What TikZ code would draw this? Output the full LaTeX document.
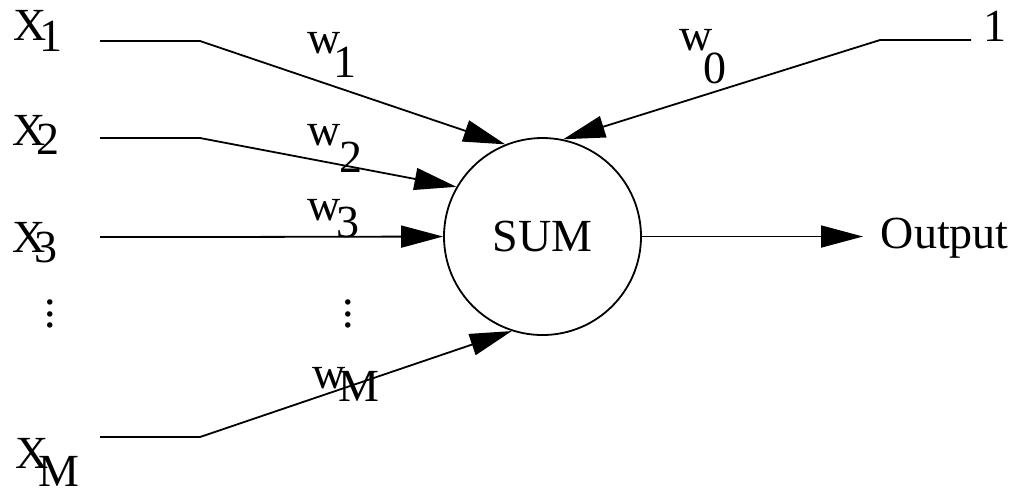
\documentclass[tikz,border=0pt]{standalone}
\usepackage{fontspec}
\setmainfont{Liberation Serif}
\newfontfamily\tms{Liberation Serif}
\usepackage{tikz}
\usetikzlibrary{
  arrows.meta,
  positioning,
  calc
}

% label with a lowered index: base, index, kern, drop
\newcommand{\sublab}[4]{#1\kern#3\raisebox{-#4}{#2}}
\newcommand{\vdotz}{\vbox{\baselineskip=2.8pt\lineskiplimit=-20pt\hbox{.}\hbox{.}\hbox{.}}}

\begin{document}
\begin{tikzpicture}[x=0.25pt,y=-0.25pt,
  every node/.style={font=\tms\fontsize{11.5pt}{14pt}\selectfont, inner sep=0pt},
  lbl/.style={anchor=base west},
  wire/.style={line width=0.45pt},
  arr/.style={wire,-{Triangle[length=10.5pt,width=5.5pt]}}]
\useasboundingbox (0,0) rectangle (1016,487);

% summing unit
\node[draw, line width=0.45pt, circle, minimum size=49.25pt] (sum) at (542.5,236.5) {SUM};

% inputs
\node[lbl] (x1) at (13,40) {\sublab{X}{1}{-0.16em}{0.25em}};
\node[lbl] (x2) at (12,145) {\sublab{X}{2}{-0.2em}{0.2em}};
\node[lbl] (x3) at (12,252) {\sublab{X}{3}{-0.24em}{0.22em}};
\node[lbl] (xM) at (15,468) {\sublab{X}{M}{-0.22em}{0.4em}};
\node (dl) at (50,314) {\vdotz};

% weights
\node[lbl] (w1) at (307,53) {\sublab{w}{1}{-0.17em}{0.54em}};
\node[lbl] (w2) at (307,145) {\sublab{w}{2}{-0.04em}{0.59em}};
\node[lbl] (w3) at (307,220) {\sublab{w}{3}{-0.09em}{0.39em}};
\node[lbl] (wM) at (312,388) {\sublab{w}{M}{-0.17em}{0.3em}};
\node[lbl] (w0) at (679,50) {\sublab{w}{0}{-0.2em}{0.72em}};
\node (dm) at (348,314) {\vdotz};

% bias and output
\node[lbl] (one) at (983,41) {1};
\node[lbl] (out) at (880,248) {Output};

% input wires
\foreach \n/\yy/\ang in {1/41/112.5, 2/138/150.4, 3/237/180, M/437/-108}{
  \coordinate (in\n) at (100,\yy);
  \coordinate (bend\n) at (200,\yy);
  \draw[arr] (in\n) -- (bend\n) -- (sum.\ang);
}
\coordinate (in0) at (971,40);
\coordinate (bend0) at (880,40);
\draw[arr] (in0) -- (bend0) -- (sum.78.6);

% output wire
\draw[arr] (sum.east) -- ([xshift=-4.25pt]sum.east -| out.west);
\end{tikzpicture}
\end{document}
